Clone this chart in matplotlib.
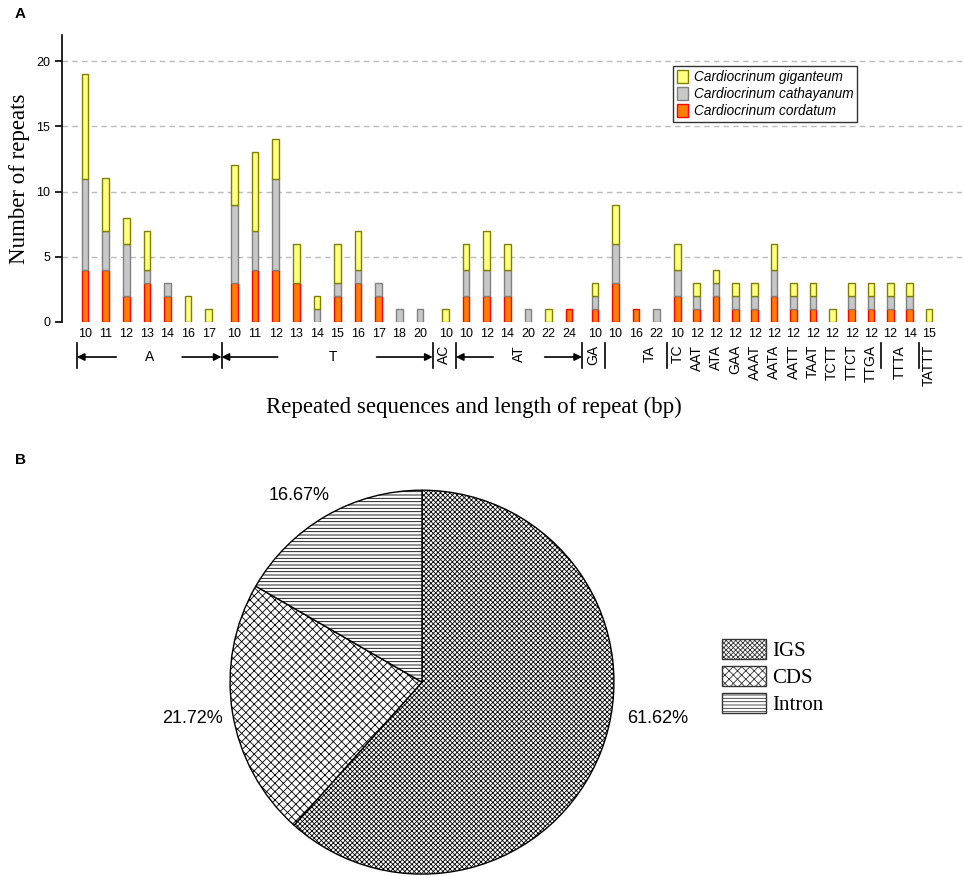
# SSR repeat counts (panel A) and location of repeats (panel B)
import numpy as np
import matplotlib
matplotlib.use('Agg')
import matplotlib.pyplot as plt
import matplotlib.transforms as mtransforms
from matplotlib.patches import Patch

plt.rcParams['font.family'] = ['Liberation Sans', 'DejaVu Sans']
plt.rcParams['hatch.linewidth'] = 0.6

# repeat motif groups and the repeat lengths in each group
group_names = ['A', 'T', 'AC', 'AT', 'GA', 'TA', 'TC', 'AAT', 'ATA', 'GAA', 'AAAT',
               'AATA', 'AATT', 'TAAT', 'TCTT', 'TTCT', 'TTGA', 'TTTA', 'TATTT']
group_lengths = [[10, 11, 12, 13, 14, 16, 17],
                 [10, 11, 12, 13, 14, 15, 16, 17, 18, 20],
                 [10],
                 [10, 12, 14, 20, 22, 24],
                 [10],
                 [10, 16, 22],
                 [10], [12], [12], [12], [12], [12], [12], [12], [12], [12], [12],
                 [12, 14],
                 [15]]

# counts per species, same order as the lengths above
cordatum = [4, 4, 2, 3, 2, 0, 0,
            3, 4, 4, 3, 0, 2, 3, 2, 0, 0,
            0,
            2, 2, 2, 0, 0, 1,
            1,
            3, 1, 0,
            2, 1, 2, 1, 1, 2, 1, 1, 0, 1, 1,
            1, 1,
            0]
cathayanum = [7, 3, 4, 1, 1, 0, 0,
              6, 3, 7, 0, 1, 1, 1, 1, 1, 1,
              0,
              2, 2, 2, 1, 0, 0,
              1,
              3, 0, 1,
              2, 1, 1, 1, 1, 2, 1, 1, 0, 1, 1,
              1, 1,
              0]
giganteum = [8, 4, 2, 3, 0, 2, 1,
             3, 6, 3, 3, 1, 3, 3, 0, 0, 0,
             1,
             2, 3, 2, 0, 1, 0,
             1,
             3, 0, 0,
             2, 1, 1, 1, 1, 2, 1, 1, 1, 1, 1,
             1, 1,
             1]

# panel B
pie_labels = ['IGS', 'CDS', 'Intron']
pie_values = [61.62, 21.72, 16.67]
pie_hatches = ['xxxxxxx', 'xxxx', '-----']

# ---- x positions of the bars (small gaps between the big groups)
positions = []
group_start = []
x = 0.0
for g, lens in zip(group_names, group_lengths):
    if g in ('T', 'AC', 'GA'):
        x += 0.25
    group_start.append(len(positions))
    for L in lens:
        positions.append(x)
        x += 1.0 if len(positions) <= 28 else 0.94
positions = np.array(positions)
tick_text = [str(L) for lens in group_lengths for L in lens]

fig = plt.figure(figsize=(9.64, 8.76), dpi=100)
ax = fig.add_axes([62 / 964, 554 / 876, 900 / 964, 287 / 876])

red = np.array(cordatum)
gray = np.array(cathayanum)
yel = np.array(giganteum)
w = 0.32


def draw(vals, bottom, fc, ec, label):
    m = vals > 0
    ax.bar(positions[m], vals[m], w, bottom=bottom[m], color=fc, edgecolor=ec,
           linewidth=1.0, label=label, zorder=3)


draw(red, np.zeros(len(red)), '#FF8000', '#FF0000', 'Cardiocrinum cordatum')
draw(gray, red, '#C8C8C8', '#808080', 'Cardiocrinum cathayanum')
draw(yel, red + gray, '#FFFF80', '#808000', 'Cardiocrinum giganteum')

ax.set_xlim(-1.12, 42.57)
ax.set_ylim(0, 22)
ax.set_yticks([0, 5, 10, 15, 20])
ax.set_xticks(positions)
ax.set_xticklabels(tick_text, fontsize=9)
ax.tick_params(axis='x', length=0, pad=4)
ax.tick_params(axis='y', direction='out', length=5, width=1.2, labelsize=9)
for s in ['top', 'right', 'bottom']:
    ax.spines[s].set_visible(False)
ax.spines['left'].set_linewidth(1.2)
for yv in [5, 10, 15, 20]:
    ax.axhline(yv, color='#BBBBBB', lw=1, ls=(0, (4, 3)), zorder=1)

ax.set_ylabel('Number of repeats', family='Liberation Serif', fontsize=16.5)
ax.yaxis.set_label_coords(-0.036, 0.5)
ax.text(0.458, -0.296, 'Repeated sequences and length of repeat (bp)',
        transform=ax.transAxes, ha='center', va='center',
        family='Liberation Serif', fontsize=16.5)

h, l = ax.get_legend_handles_labels()
leg = ax.legend(h[::-1], l[::-1], loc='upper left', bbox_to_anchor=(0.679, 0.892),
                borderaxespad=0, prop={'style': 'italic', 'size': 9.8},
                handlelength=0.8, handleheight=1.1, handletextpad=0.4,
                labelspacing=0.2, borderpad=0.3, fancybox=False, framealpha=1,
                edgecolor='#333333')
leg.get_frame().set_linewidth(1.0)

# ---- group annotation row below the tick labels
trans = mtransforms.blended_transform_factory(ax.transData, ax.transAxes)
y_row = -0.122
y_lo, y_hi = -0.160, -0.073
y_top = -0.080


def sep(xv):
    ax.plot([xv, xv], [y_lo, y_hi], color='k', lw=1.2, transform=trans, clip_on=False)


bounds = {}
for gi, g in enumerate(group_names):
    s = group_start[gi]
    if s == 0:
        bounds[g] = positions[0] - 0.4
    else:
        bounds[g] = (positions[s - 1] + positions[s]) / 2

for g in ['A', 'T', 'AC', 'AT', 'GA', 'TA', 'TC', 'TTTA', 'TATTT']:
    sep(bounds[g])


def arrows(left, right, arm):
    c = (left + right) / 2
    kw = dict(arrowstyle='-|>', color='k', lw=1.2, mutation_scale=11, shrinkA=0, shrinkB=0)
    ax.annotate('', xy=(left, y_row), xytext=(c - arm, y_row), xycoords=trans,
                textcoords=trans, arrowprops=kw)
    ax.annotate('', xy=(right, y_row), xytext=(c + arm, y_row), xycoords=trans,
                textcoords=trans, arrowprops=kw)
    return c


c = arrows(bounds['A'], bounds['T'], 1.6)
ax.text(c, y_row, 'A', transform=trans, ha='center', va='center', fontsize=10)
c = arrows(bounds['T'], bounds['AC'], 2.4)
ax.text(c + 0.3, y_row, 'T', transform=trans, ha='center', va='center', fontsize=10)
c = arrows(bounds['AT'], bounds['GA'], 1.25)
ax.text(c, y_top, 'AT', transform=trans, ha='center', va='top', rotation=90, fontsize=10)

ax.text((bounds['AC'] + bounds['AT']) / 2, y_top, 'AC', transform=trans,
        ha='center', va='top', rotation=90, fontsize=10)
ax.text((bounds['GA'] + bounds['TA']) / 2, y_top, 'GA', transform=trans,
        ha='center', va='top', rotation=90, fontsize=10)
ax.text(bounds['TC'] - 0.85, y_top, 'TA', transform=trans,
        ha='center', va='top', rotation=90, fontsize=10)
for gi, g in enumerate(group_names):
    if gi < group_names.index('TC'):
        continue
    idx = list(range(group_start[gi], group_start[gi] + len(group_lengths[gi])))
    xc = positions[idx].mean()
    ax.text(xc, y_top, g, transform=trans, ha='center', va='top',
            rotation=90, fontsize=10)

fig.text(15 / 964, 1 - 14 / 876, 'A', fontsize=11, fontweight='bold', va='center')
fig.text(15 / 964, 1 - 460 / 876, 'B', fontsize=11, fontweight='bold', va='center')

# ---- panel B pie
ax2 = fig.add_axes([134 / 964, 0, 576 / 964, 405 / 876])
wedges, _ = ax2.pie(pie_values, startangle=90, counterclock=False, colors=['white'] * 3,
                    wedgeprops=dict(edgecolor='k', linewidth=1.0))
for wd, hh in zip(wedges, pie_hatches):
    wd.set_hatch(hh)
ax2.set_xlim(-1.5, 1.5)
ax2.set_ylim(-1.01, 1.1)
pct_pos = [(1.07, -0.19, 'left'), (-1.04, -0.19, 'right'), (-0.64, 0.97, 'center')]
for v, (px, py, ha) in zip(pie_values, pct_pos):
    ax2.text(px, py, '%.2f%%' % v, ha=ha, va='center', fontsize=13)

handles = [Patch(facecolor='white', edgecolor='#333333', hatch=hh, label=lb)
           for lb, hh in zip(pie_labels, pie_hatches)]
fig.legend(handles=handles, loc='center left', bbox_to_anchor=(722 / 964, 1 - 677 / 876),
           frameon=False, prop={'family': 'Liberation Serif', 'size': 15},
           handlelength=2.1, handleheight=1.1, handletextpad=0.3,
           labelspacing=0.25, borderpad=0, borderaxespad=0)

fig.savefig('out.png', dpi=100)
